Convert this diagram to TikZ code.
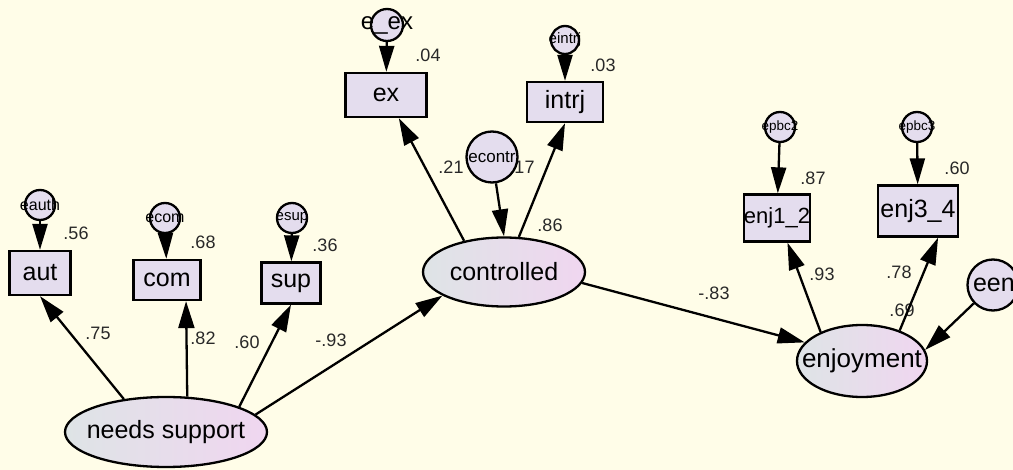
\documentclass[tikz,border=0pt]{standalone}
\usepackage{fontspec}
\setmainfont{Liberation Sans}
\usetikzlibrary{arrows.meta,shapes.geometric}
\definecolor{paper}{RGB}{255,253,232}
\definecolor{boxfill}{RGB}{228,221,238}
\definecolor{latleft}{RGB}{222,228,230}
\definecolor{latright}{RGB}{240,214,240}
\definecolor{numcol}{RGB}{40,40,40}
\newcommand{\fsz}[1]{\fontsize{#1}{#1}\selectfont}

\begin{document}
\begin{tikzpicture}[
      x=1pt, y=-1pt,
      obs/.style={draw, line width=2.3pt, fill=boxfill, inner sep=0pt, font=\fsz{25}},
      lat/.style={ellipse, draw, line width=2.3pt, left color=latleft, right color=latright, inner sep=0pt, font=\fsz{25}},
      err/.style={circle, draw, line width=2.3pt, fill=boxfill, inner sep=0pt, minimum size=30pt},
      lbl/.style={inner sep=0pt, text=numcol, font=\fsz{18}},
      arr/.style={-{Triangle[length=27pt, width=16pt]}, line width=2.3pt},
      earr/.style={-{Triangle[length=26pt, width=15pt]}, line width=2.3pt}
    ]
      \useasboundingbox (0,0) rectangle (1013,470);
      \fill[paper] (0,0) rectangle (1013,470);

      % latent variables
      \node[lat, minimum width=202pt, minimum height=70pt] (needs) at (166,432) {\makebox[0pt]{needs support}};
      \node[lat, minimum width=162pt, minimum height=69pt] (contr) at (504,272) {\makebox[0pt]{controlled}};
      \node[lat, minimum width=130pt, minimum height=72pt, font=\fsz{26}] (enjoy) at (862,361) {\makebox[0pt]{enjoyment}};

      % observed variables
      \node[obs, minimum width=61pt, minimum height=44pt] (aut) at (40,273) {aut};
      \node[obs, minimum width=67pt, minimum height=40pt] (com) at (167,280) {com};
      \node[obs, minimum width=59pt, minimum height=41pt] (sup) at (291,283) {sup};
      \node[obs, minimum width=81pt, minimum height=44pt] (ex) at (386,95) {ex};
      \node[obs, minimum width=76pt, minimum height=40pt] (intrj) at (565,102) {intrj};
      \node[obs, minimum width=66pt, minimum height=47pt, font=\fsz{22}] (enj12) at (777,218) {enj1\_2};
      \node[obs, minimum width=80pt, minimum height=51pt] (enj34) at (918,211) {enj3\_4};

      % label behind the disturbance circle
      \node[lbl] (r17) at (522,167) {.17};

      % error terms
      \node[err, font=\fsz{16}] (eauth) at (40,205) {\makebox[0pt]{eauth}};
      \node[err, font=\fsz{16}] (ecom) at (165,218) {\makebox[0pt]{ecom}};
      \node[err, font=\fsz{15}] (esup) at (292,218) {\makebox[0pt]{esup}};
      \node[err, minimum size=32pt, font=\fsz{24}] (eex) at (387,25) {\makebox[0pt]{e\_ex}};
      \node[err, minimum size=28pt, font=\fsz{15}] (eintrj) at (565,40) {\makebox[0pt]{eintrj}};
      \node[err, minimum size=51pt, font=\fsz{17}] (econtr) at (492,157) {\makebox[0pt]{econtr}};
      \node[err, font=\fsz{13.5}] (epbc2) at (780,127) {\makebox[0pt]{epbc2}};
      \node[err, font=\fsz{13.5}] (epbc3) at (917,127) {\makebox[0pt]{epbc3}};
      \node[err, minimum size=51pt, font=\fsz{25}] (een) at (993,285) {\makebox[0pt]{\makebox[40pt][l]{een}}};

      % coefficients
      \node[lbl] (r56) at (76,233) {.56};
      \node[lbl] (r68) at (203,242) {.68};
      \node[lbl] (r36) at (325,245) {.36};
      \node[lbl] (w75) at (98,333) {.75};
      \node[lbl] (w82) at (203,338) {.82};
      \node[lbl] (w60) at (247,342) {.60};
      \node[lbl] (w93a) at (331,340) {-.93};
      \node[lbl] (r04) at (428,55) {.04};
      \node[lbl] (r03) at (603,65) {.03};
      \node[lbl] (w21) at (451,167) {.21};
      \node[lbl] (w86) at (550,225) {.86};
      \node[lbl] (r87) at (813,178) {.87};
      \node[lbl] (r60) at (957,168) {.60};
      \node[lbl] (w93b) at (822,274) {.93};
      \node[lbl] (w78) at (899,272) {.78};
      \node[lbl] (r69) at (902,310) {.69};
      \node[lbl] (w83) at (714,293) {-.83};

      % paths
      \draw[arr] (needs.142) -- (aut.south);
      \draw[arr] (needs.59) -- (com.-48);
      \draw[arr] (needs.19) -- (sup.south);
      \draw[arr] (needs.11) -- (contr.201);
      \draw[arr] (contr.142) -- (ex.-61);
      \draw[arr] (contr.67) -- (intrj.south);
      \draw[arr] (econtr) -- (contr.north);
      \draw[arr] (contr.-8) -- (enjoy.162);
      \draw[arr] (enjoy.145) -- (enj12.-67);
      \draw[arr] (enjoy.39) -- (enj34.-53);
      \draw[arr] (een) -- (enjoy.10);

      % error paths
      \draw[earr] (eauth) -- (aut);
      \draw[earr] (ecom) -- (com);
      \draw[earr] (esup) -- (sup);
      \draw[earr] (eex) -- (ex);
      \draw[earr] (eintrj) -- (intrj);
      \draw[earr] (epbc2) -- (enj12);
      \draw[earr] (epbc3) -- (enj34);
    \end{tikzpicture}
\end{document}
